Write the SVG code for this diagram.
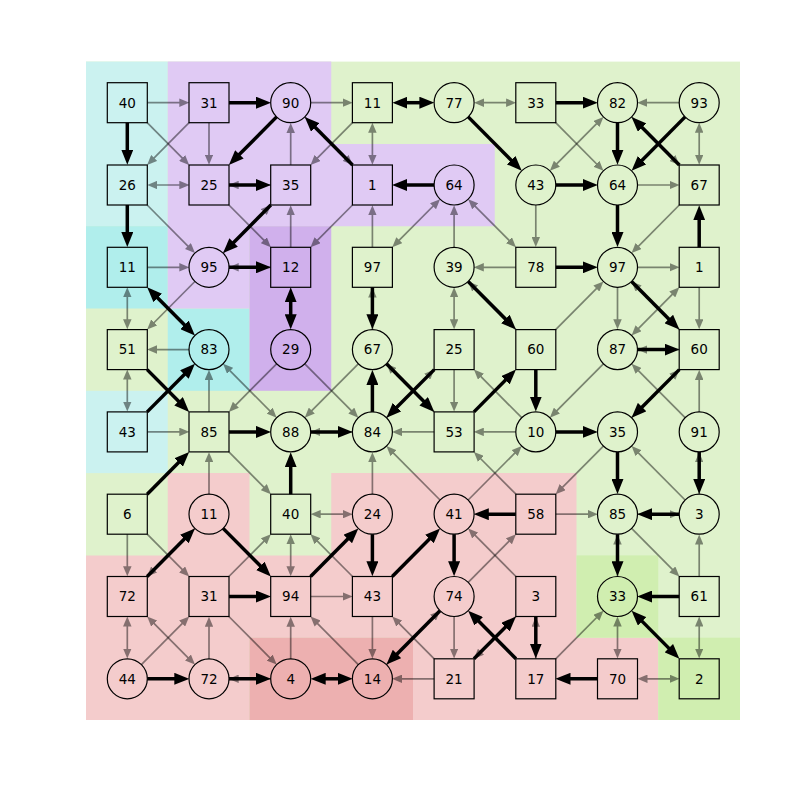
<svg xmlns="http://www.w3.org/2000/svg" width="800" height="800" viewBox="0 0 800 800">
<style>
.t,.td{stroke:#000;stroke-width:1.7;opacity:.45;marker-end:url(#mt)}
.td{marker-start:url(#mt)}
.k,.kd{stroke:#000;stroke-width:3.5;marker-end:url(#mk)}
.kd{marker-start:url(#mk)}
.n rect,.n circle{fill:none;stroke:#000;stroke-width:1.2}
.n text{font-family:"DejaVu Sans",sans-serif;font-size:13.5px;text-anchor:middle;fill:#000}
</style>
<defs>
<marker id="mt" viewBox="0 0 10 8.5" refX="6" refY="4.25" markerWidth="10" markerHeight="8.5" markerUnits="userSpaceOnUse" orient="auto-start-reverse"><path d="M0,0 L10,4.25 L0,8.5 Z" fill="#000"/></marker>
<marker id="mk" viewBox="0 0 15 12" refX="7" refY="6" markerWidth="15" markerHeight="12" markerUnits="userSpaceOnUse" orient="auto-start-reverse"><path d="M0,0 L15,6 L0,12 Z" fill="#000"/></marker>
</defs>
<rect width="800" height="800" fill="#fff"/>
<g id="background">
<rect x="86" y="61.6" width="654" height="658.4" fill="#dff2cc"/>
<rect x="86" y="61.6" width="81.75" height="164.6" fill="#cbf2f0"/>
<rect x="86" y="390.8" width="81.75" height="82.3" fill="#cbf2f0"/>
<rect x="86" y="226.2" width="81.75" height="82.3" fill="#b0eeec"/>
<rect x="167.75" y="308.5" width="81.75" height="82.3" fill="#b0eeec"/>
<path d="M167.75,61.6 H331.25 V143.9 H494.75 V226.2 H249.5 V308.5 H167.75 Z" fill="#e0caf4"/>
<rect x="249.5" y="226.2" width="81.75" height="164.6" fill="#d0b0ec"/>
<path d="M86,555.4 H167.75 V473.1 H249.5 V555.4 H331.25 V473.1 H576.5 V637.7 H658.25 V720 H413 V637.7 H249.5 V720 H86 Z" fill="#f4cccc"/>
<rect x="249.5" y="637.7" width="163.5" height="82.3" fill="#edb0b0"/>
<rect x="576.5" y="555.4" width="81.75" height="82.3" fill="#d0eeb0"/>
<rect x="658.25" y="637.7" width="81.75" height="82.3" fill="#d0eeb0"/>
</g>
<g id="edges">
<g id="thin">
<line class="t" x1="20" x2="58" transform="translate(127.3 102.7)"/>
<line class="t" x1="20" x2="58" transform="translate(290.7 102.7)"/>
<line class="t" x1="20" x2="58" transform="translate(699.2 102.7) rotate(180)"/>
<line class="t" x1="20" x2="58" transform="translate(290.7 185) rotate(180)"/>
<line class="t" x1="20" x2="58" transform="translate(617.5 185)"/>
<line class="t" x1="20" x2="58" transform="translate(127.3 267.3)"/>
<line class="t" x1="20" x2="58" transform="translate(290.7 267.3) rotate(180)"/>
<line class="t" x1="20" x2="58" transform="translate(535.8 267.3) rotate(180)"/>
<line class="t" x1="20" x2="58" transform="translate(617.5 267.3)"/>
<line class="t" x1="20" x2="58" transform="translate(209 349.6) rotate(180)"/>
<line class="t" x1="20" x2="58" transform="translate(699.2 349.6) rotate(180)"/>
<line class="t" x1="20" x2="58" transform="translate(127.3 431.9)"/>
<line class="t" x1="20" x2="58" transform="translate(372.4 431.9) rotate(180)"/>
<line class="t" x1="20" x2="58" transform="translate(454.1 431.9) rotate(180)"/>
<line class="t" x1="20" x2="58" transform="translate(535.8 431.9) rotate(180)"/>
<line class="t" x1="20" x2="58" transform="translate(535.8 514.2)"/>
<line class="t" x1="20" x2="58" transform="translate(617.5 514.2)"/>
<line class="t" x1="20" x2="58" transform="translate(290.7 596.5)"/>
<line class="t" x1="20" x2="58" transform="translate(290.7 678.8) rotate(180)"/>
<line class="t" x1="20" x2="58" transform="translate(454.1 678.8) rotate(180)"/>
<line class="t" x1="20" x2="58" transform="translate(127.3 514.2) rotate(90)"/>
<line class="t" x1="20" x2="58" transform="translate(209 102.7) rotate(90)"/>
<line class="t" x1="20" x2="58" transform="translate(209 431.9) rotate(270)"/>
<line class="t" x1="20" x2="58" transform="translate(209 514.2) rotate(270)"/>
<line class="t" x1="20" x2="58" transform="translate(209 678.8) rotate(270)"/>
<line class="t" x1="20" x2="58" transform="translate(290.7 185) rotate(270)"/>
<line class="t" x1="20" x2="58" transform="translate(290.7 267.3) rotate(270)"/>
<line class="t" x1="20" x2="58" transform="translate(290.7 678.8) rotate(270)"/>
<line class="t" x1="20" x2="58" transform="translate(372.4 267.3) rotate(270)"/>
<line class="t" x1="20" x2="58" transform="translate(372.4 349.6) rotate(270)"/>
<line class="t" x1="20" x2="58" transform="translate(372.4 514.2) rotate(270)"/>
<line class="t" x1="20" x2="58" transform="translate(372.4 596.5) rotate(90)"/>
<line class="t" x1="20" x2="58" transform="translate(454.1 267.3) rotate(270)"/>
<line class="t" x1="20" x2="58" transform="translate(454.1 349.6) rotate(90)"/>
<line class="t" x1="20" x2="58" transform="translate(454.1 596.5) rotate(90)"/>
<line class="t" x1="20" x2="58" transform="translate(535.8 185) rotate(90)"/>
<line class="t" x1="20" x2="58" transform="translate(535.8 678.8) rotate(270)"/>
<line class="t" x1="20" x2="58" transform="translate(617.5 267.3) rotate(90)"/>
<line class="t" x1="20" x2="58" transform="translate(617.5 596.5) rotate(270)"/>
<line class="t" x1="20" x2="58" transform="translate(699.2 267.3) rotate(90)"/>
<line class="t" x1="20" x2="58" transform="translate(699.2 431.9) rotate(270)"/>
<line class="t" x1="20" x2="58" transform="translate(699.2 514.2) rotate(270)"/>
<line class="t" x1="20" x2="58" transform="translate(699.2 596.5) rotate(270)"/>
<line class="td" x1="24" x2="58" transform="translate(454.1 102.7)"/>
<line class="td" x1="24" x2="58" transform="translate(127.3 185)"/>
<line class="td" x1="24" x2="58" transform="translate(290.7 514.2)"/>
<line class="td" x1="24" x2="58" transform="translate(617.5 678.8)"/>
<line class="td" x1="24" x2="58" transform="translate(127.3 267.3) rotate(90)"/>
<line class="td" x1="24" x2="58" transform="translate(127.3 349.6) rotate(90)"/>
<line class="td" x1="24" x2="58" transform="translate(127.3 596.5) rotate(90)"/>
<line class="td" x1="24" x2="58" transform="translate(290.7 514.2) rotate(90)"/>
<line class="td" x1="24" x2="58" transform="translate(372.4 102.7) rotate(90)"/>
<line class="td" x1="24" x2="58" transform="translate(454.1 267.3) rotate(90)"/>
<line class="td" x1="24" x2="58" transform="translate(617.5 596.5) rotate(90)"/>
<line class="td" x1="24" x2="58" transform="translate(699.2 102.7) rotate(90)"/>
<line class="td" x1="24" x2="58" transform="translate(699.2 596.5) rotate(90)"/>
<line class="t" x1="28.2" x2="83.8" transform="translate(127.3 102.7) rotate(45.2)"/>
<line class="t" x1="28.2" x2="83.8" transform="translate(209 102.7) rotate(134.8)"/>
<line class="t" x1="28.2" x2="83.8" transform="translate(372.4 102.7) rotate(134.8)"/>
<line class="t" x1="20" x2="83.8" transform="translate(290.7 102.7) rotate(45.2)"/>
<line class="t" x1="28.2" x2="92" transform="translate(535.8 102.7) rotate(45.2)"/>
<line class="t" x1="20" x2="83.8" transform="translate(617.5 102.7) rotate(45.2)"/>
<line class="t" x1="28.2" x2="92" transform="translate(127.3 185) rotate(45.2)"/>
<line class="t" x1="28.2" x2="83.8" transform="translate(209 185) rotate(45.2)"/>
<line class="t" x1="20" x2="83.8" transform="translate(209 267.3) rotate(314.8)"/>
<line class="t" x1="28.2" x2="83.8" transform="translate(372.4 185) rotate(134.8)"/>
<line class="t" x1="28.2" x2="92" transform="translate(699.2 185) rotate(134.8)"/>
<line class="t" x1="20" x2="83.8" transform="translate(209 267.3) rotate(134.8)"/>
<line class="t" x1="28.2" x2="92" transform="translate(535.8 349.6) rotate(225.2)"/>
<line class="t" x1="28.2" x2="92" transform="translate(535.8 349.6) rotate(314.8)"/>
<line class="t" x1="28.2" x2="92" transform="translate(699.2 349.6) rotate(225.2)"/>
<line class="t" x1="20" x2="83.8" transform="translate(290.7 349.6) rotate(134.8)"/>
<line class="t" x1="20" x2="92" transform="translate(290.7 349.6) rotate(45.2)"/>
<line class="t" x1="20" x2="92" transform="translate(372.4 349.6) rotate(134.8)"/>
<line class="t" x1="28.2" x2="92" transform="translate(454.1 431.9) rotate(225.2)"/>
<line class="t" x1="20" x2="83.8" transform="translate(372.4 431.9) rotate(314.8)"/>
<line class="t" x1="20" x2="83.8" transform="translate(535.8 431.9) rotate(225.2)"/>
<line class="t" x1="20" x2="92" transform="translate(617.5 349.6) rotate(134.8)"/>
<line class="t" x1="20" x2="83.8" transform="translate(617.5 431.9) rotate(314.8)"/>
<line class="t" x1="20" x2="92" transform="translate(699.2 431.9) rotate(225.2)"/>
<line class="t" x1="28.2" x2="83.8" transform="translate(209 431.9) rotate(45.2)"/>
<line class="t" x1="20" x2="92" transform="translate(454.1 514.2) rotate(225.2)"/>
<line class="t" x1="20" x2="92" transform="translate(454.1 514.2) rotate(314.8)"/>
<line class="t" x1="28.2" x2="83.8" transform="translate(535.8 514.2) rotate(225.2)"/>
<line class="t" x1="20" x2="83.8" transform="translate(617.5 431.9) rotate(134.8)"/>
<line class="t" x1="20" x2="92" transform="translate(699.2 514.2) rotate(225.2)"/>
<line class="t" x1="28.2" x2="83.8" transform="translate(127.3 514.2) rotate(45.2)"/>
<line class="t" x1="20" x2="83.8" transform="translate(209 514.2) rotate(134.8)"/>
<line class="t" x1="28.2" x2="83.8" transform="translate(209 596.5) rotate(314.8)"/>
<line class="t" x1="28.2" x2="83.8" transform="translate(372.4 596.5) rotate(225.2)"/>
<line class="t" x1="20" x2="83.8" transform="translate(454.1 596.5) rotate(314.8)"/>
<line class="t" x1="28.2" x2="92" transform="translate(535.8 596.5) rotate(225.2)"/>
<line class="t" x1="20" x2="83.8" transform="translate(617.5 514.2) rotate(45.2)"/>
<line class="t" x1="20" x2="83.8" transform="translate(127.3 678.8) rotate(314.8)"/>
<line class="t" x1="28.2" x2="92" transform="translate(209 596.5) rotate(45.2)"/>
<line class="t" x1="20" x2="83.8" transform="translate(372.4 678.8) rotate(225.2)"/>
<line class="t" x1="28.2" x2="83.8" transform="translate(454.1 678.8) rotate(225.2)"/>
<line class="t" x1="20" x2="92" transform="translate(372.4 678.8) rotate(314.8)"/>
<line class="t" x1="28.2" x2="83.8" transform="translate(535.8 596.5) rotate(134.8)"/>
<line class="t" x1="28.2" x2="92" transform="translate(535.8 678.8) rotate(314.8)"/>
<line class="td" x1="24" x2="92" transform="translate(535.8 185) rotate(314.8)"/>
<line class="td" x1="32.2" x2="92" transform="translate(372.4 267.3) rotate(314.8)"/>
<line class="td" x1="24" x2="83.8" transform="translate(454.1 185) rotate(45.2)"/>
<line class="td" x1="32.2" x2="92" transform="translate(699.2 267.3) rotate(134.8)"/>
<line class="td" x1="24" x2="92" transform="translate(209 349.6) rotate(45.2)"/>
<line class="td" x1="32.2" x2="92" transform="translate(127.3 596.5) rotate(45.2)"/>
</g>
<g id="thick">
<line class="k" x1="20" x2="54" transform="translate(209 102.7)"/>
<line class="k" x1="20" x2="54" transform="translate(535.8 102.7)"/>
<line class="k" x1="20" x2="54" transform="translate(209 185)"/>
<line class="k" x1="20" x2="54" transform="translate(454.1 185) rotate(180)"/>
<line class="k" x1="20" x2="54" transform="translate(535.8 185)"/>
<line class="k" x1="20" x2="54" transform="translate(209 267.3)"/>
<line class="k" x1="20" x2="54" transform="translate(535.8 267.3)"/>
<line class="k" x1="20" x2="54" transform="translate(617.5 349.6)"/>
<line class="k" x1="20" x2="54" transform="translate(209 431.9)"/>
<line class="k" x1="20" x2="54" transform="translate(290.7 431.9)"/>
<line class="k" x1="20" x2="54" transform="translate(535.8 431.9)"/>
<line class="k" x1="20" x2="54" transform="translate(535.8 514.2) rotate(180)"/>
<line class="k" x1="20" x2="54" transform="translate(699.2 514.2) rotate(180)"/>
<line class="k" x1="20" x2="54" transform="translate(209 596.5)"/>
<line class="k" x1="20" x2="54" transform="translate(699.2 596.5) rotate(180)"/>
<line class="k" x1="20" x2="54" transform="translate(127.3 678.8)"/>
<line class="k" x1="20" x2="54" transform="translate(209 678.8)"/>
<line class="k" x1="20" x2="54" transform="translate(617.5 678.8) rotate(180)"/>
<line class="k" x1="20" x2="54" transform="translate(127.3 102.7) rotate(90)"/>
<line class="k" x1="20" x2="54" transform="translate(127.3 185) rotate(90)"/>
<line class="k" x1="20" x2="54" transform="translate(290.7 514.2) rotate(270)"/>
<line class="k" x1="20" x2="54" transform="translate(372.4 267.3) rotate(90)"/>
<line class="k" x1="20" x2="54" transform="translate(372.4 431.9) rotate(270)"/>
<line class="k" x1="20" x2="54" transform="translate(372.4 514.2) rotate(90)"/>
<line class="k" x1="20" x2="54" transform="translate(454.1 514.2) rotate(90)"/>
<line class="k" x1="20" x2="54" transform="translate(535.8 349.6) rotate(90)"/>
<line class="k" x1="20" x2="54" transform="translate(535.8 596.5) rotate(90)"/>
<line class="k" x1="20" x2="54" transform="translate(617.5 102.7) rotate(90)"/>
<line class="k" x1="20" x2="54" transform="translate(617.5 185) rotate(90)"/>
<line class="k" x1="20" x2="54" transform="translate(617.5 431.9) rotate(90)"/>
<line class="k" x1="20" x2="54" transform="translate(617.5 514.2) rotate(90)"/>
<line class="k" x1="20" x2="54" transform="translate(699.2 267.3) rotate(270)"/>
<line class="k" x1="20" x2="54" transform="translate(699.2 431.9) rotate(90)"/>
<line class="kd" x1="28" x2="54" transform="translate(372.4 102.7)"/>
<line class="kd" x1="28" x2="54" transform="translate(290.7 678.8)"/>
<line class="kd" x1="28" x2="54" transform="translate(290.7 267.3) rotate(90)"/>
<line class="k" x1="20" x2="79.8" transform="translate(290.7 102.7) rotate(134.8)"/>
<line class="k" x1="28.2" x2="88" transform="translate(372.4 185) rotate(225.2)"/>
<line class="k" x1="20" x2="88" transform="translate(454.1 102.7) rotate(45.2)"/>
<line class="k" x1="20" x2="88" transform="translate(699.2 102.7) rotate(134.8)"/>
<line class="k" x1="28.2" x2="88" transform="translate(699.2 185) rotate(225.2)"/>
<line class="k" x1="28.2" x2="88" transform="translate(290.7 185) rotate(134.8)"/>
<line class="k" x1="20" x2="79.8" transform="translate(454.1 267.3) rotate(45.2)"/>
<line class="k" x1="20" x2="79.8" transform="translate(617.5 267.3) rotate(45.2)"/>
<line class="k" x1="28.2" x2="79.8" transform="translate(127.3 349.6) rotate(45.2)"/>
<line class="k" x1="28.2" x2="88" transform="translate(127.3 431.9) rotate(314.8)"/>
<line class="k" x1="20" x2="79.8" transform="translate(372.4 349.6) rotate(45.2)"/>
<line class="k" x1="28.2" x2="88" transform="translate(454.1 349.6) rotate(134.8)"/>
<line class="k" x1="28.2" x2="79.8" transform="translate(454.1 431.9) rotate(314.8)"/>
<line class="k" x1="28.2" x2="88" transform="translate(699.2 349.6) rotate(134.8)"/>
<line class="k" x1="28.2" x2="79.8" transform="translate(127.3 514.2) rotate(314.8)"/>
<line class="k" x1="28.2" x2="88" transform="translate(127.3 596.5) rotate(314.8)"/>
<line class="k" x1="20" x2="79.8" transform="translate(209 514.2) rotate(45.2)"/>
<line class="k" x1="28.2" x2="88" transform="translate(290.7 596.5) rotate(314.8)"/>
<line class="k" x1="28.2" x2="88" transform="translate(372.4 596.5) rotate(314.8)"/>
<line class="k" x1="20" x2="88" transform="translate(454.1 596.5) rotate(134.8)"/>
<line class="k" x1="28.2" x2="79.8" transform="translate(454.1 678.8) rotate(314.8)"/>
<line class="k" x1="28.2" x2="88" transform="translate(535.8 678.8) rotate(225.2)"/>
<line class="kd" x1="36.2" x2="88" transform="translate(127.3 267.3) rotate(45.2)"/>
<line class="kd" x1="28" x2="79.8" transform="translate(617.5 596.5) rotate(45.2)"/>
</g>
</g>
<g id="nodes" class="n">
<g id="n0_0"><rect x="107.3" y="82.7" width="40" height="40"/><text x="127.3" y="107.5">40</text></g>
<g id="n0_1"><rect x="189" y="82.7" width="40" height="40"/><text x="209" y="107.5">31</text></g>
<g id="n0_2"><circle cx="290.7" cy="102.7" r="20"/><text x="290.7" y="107.5">90</text></g>
<g id="n0_3"><rect x="352.4" y="82.7" width="40" height="40"/><text x="372.4" y="107.5">11</text></g>
<g id="n0_4"><circle cx="454.1" cy="102.7" r="20"/><text x="454.1" y="107.5">77</text></g>
<g id="n0_5"><rect x="515.8" y="82.7" width="40" height="40"/><text x="535.8" y="107.5">33</text></g>
<g id="n0_6"><circle cx="617.5" cy="102.7" r="20"/><text x="617.5" y="107.5">82</text></g>
<g id="n0_7"><circle cx="699.2" cy="102.7" r="20"/><text x="699.2" y="107.5">93</text></g>
<g id="n1_0"><rect x="107.3" y="165" width="40" height="40"/><text x="127.3" y="189.8">26</text></g>
<g id="n1_1"><rect x="189" y="165" width="40" height="40"/><text x="209" y="189.8">25</text></g>
<g id="n1_2"><rect x="270.7" y="165" width="40" height="40"/><text x="290.7" y="189.8">35</text></g>
<g id="n1_3"><rect x="352.4" y="165" width="40" height="40"/><text x="372.4" y="189.8">1</text></g>
<g id="n1_4"><circle cx="454.1" cy="185" r="20"/><text x="454.1" y="189.8">64</text></g>
<g id="n1_5"><circle cx="535.8" cy="185" r="20"/><text x="535.8" y="189.8">43</text></g>
<g id="n1_6"><circle cx="617.5" cy="185" r="20"/><text x="617.5" y="189.8">64</text></g>
<g id="n1_7"><rect x="679.2" y="165" width="40" height="40"/><text x="699.2" y="189.8">67</text></g>
<g id="n2_0"><rect x="107.3" y="247.3" width="40" height="40"/><text x="127.3" y="272.1">11</text></g>
<g id="n2_1"><circle cx="209" cy="267.3" r="20"/><text x="209" y="272.1">95</text></g>
<g id="n2_2"><rect x="270.7" y="247.3" width="40" height="40"/><text x="290.7" y="272.1">12</text></g>
<g id="n2_3"><rect x="352.4" y="247.3" width="40" height="40"/><text x="372.4" y="272.1">97</text></g>
<g id="n2_4"><circle cx="454.1" cy="267.3" r="20"/><text x="454.1" y="272.1">39</text></g>
<g id="n2_5"><rect x="515.8" y="247.3" width="40" height="40"/><text x="535.8" y="272.1">78</text></g>
<g id="n2_6"><circle cx="617.5" cy="267.3" r="20"/><text x="617.5" y="272.1">97</text></g>
<g id="n2_7"><rect x="679.2" y="247.3" width="40" height="40"/><text x="699.2" y="272.1">1</text></g>
<g id="n3_0"><rect x="107.3" y="329.6" width="40" height="40"/><text x="127.3" y="354.4">51</text></g>
<g id="n3_1"><circle cx="209" cy="349.6" r="20"/><text x="209" y="354.4">83</text></g>
<g id="n3_2"><circle cx="290.7" cy="349.6" r="20"/><text x="290.7" y="354.4">29</text></g>
<g id="n3_3"><circle cx="372.4" cy="349.6" r="20"/><text x="372.4" y="354.4">67</text></g>
<g id="n3_4"><rect x="434.1" y="329.6" width="40" height="40"/><text x="454.1" y="354.4">25</text></g>
<g id="n3_5"><rect x="515.8" y="329.6" width="40" height="40"/><text x="535.8" y="354.4">60</text></g>
<g id="n3_6"><circle cx="617.5" cy="349.6" r="20"/><text x="617.5" y="354.4">87</text></g>
<g id="n3_7"><rect x="679.2" y="329.6" width="40" height="40"/><text x="699.2" y="354.4">60</text></g>
<g id="n4_0"><rect x="107.3" y="411.9" width="40" height="40"/><text x="127.3" y="436.7">43</text></g>
<g id="n4_1"><rect x="189" y="411.9" width="40" height="40"/><text x="209" y="436.7">85</text></g>
<g id="n4_2"><circle cx="290.7" cy="431.9" r="20"/><text x="290.7" y="436.7">88</text></g>
<g id="n4_3"><circle cx="372.4" cy="431.9" r="20"/><text x="372.4" y="436.7">84</text></g>
<g id="n4_4"><rect x="434.1" y="411.9" width="40" height="40"/><text x="454.1" y="436.7">53</text></g>
<g id="n4_5"><circle cx="535.8" cy="431.9" r="20"/><text x="535.8" y="436.7">10</text></g>
<g id="n4_6"><circle cx="617.5" cy="431.9" r="20"/><text x="617.5" y="436.7">35</text></g>
<g id="n4_7"><circle cx="699.2" cy="431.9" r="20"/><text x="699.2" y="436.7">91</text></g>
<g id="n5_0"><rect x="107.3" y="494.2" width="40" height="40"/><text x="127.3" y="519">6</text></g>
<g id="n5_1"><circle cx="209" cy="514.2" r="20"/><text x="209" y="519">11</text></g>
<g id="n5_2"><rect x="270.7" y="494.2" width="40" height="40"/><text x="290.7" y="519">40</text></g>
<g id="n5_3"><circle cx="372.4" cy="514.2" r="20"/><text x="372.4" y="519">24</text></g>
<g id="n5_4"><circle cx="454.1" cy="514.2" r="20"/><text x="454.1" y="519">41</text></g>
<g id="n5_5"><rect x="515.8" y="494.2" width="40" height="40"/><text x="535.8" y="519">58</text></g>
<g id="n5_6"><circle cx="617.5" cy="514.2" r="20"/><text x="617.5" y="519">85</text></g>
<g id="n5_7"><circle cx="699.2" cy="514.2" r="20"/><text x="699.2" y="519">3</text></g>
<g id="n6_0"><rect x="107.3" y="576.5" width="40" height="40"/><text x="127.3" y="601.3">72</text></g>
<g id="n6_1"><rect x="189" y="576.5" width="40" height="40"/><text x="209" y="601.3">31</text></g>
<g id="n6_2"><rect x="270.7" y="576.5" width="40" height="40"/><text x="290.7" y="601.3">94</text></g>
<g id="n6_3"><rect x="352.4" y="576.5" width="40" height="40"/><text x="372.4" y="601.3">43</text></g>
<g id="n6_4"><circle cx="454.1" cy="596.5" r="20"/><text x="454.1" y="601.3">74</text></g>
<g id="n6_5"><rect x="515.8" y="576.5" width="40" height="40"/><text x="535.8" y="601.3">3</text></g>
<g id="n6_6"><circle cx="617.5" cy="596.5" r="20"/><text x="617.5" y="601.3">33</text></g>
<g id="n6_7"><rect x="679.2" y="576.5" width="40" height="40"/><text x="699.2" y="601.3">61</text></g>
<g id="n7_0"><circle cx="127.3" cy="678.8" r="20"/><text x="127.3" y="683.6">44</text></g>
<g id="n7_1"><circle cx="209" cy="678.8" r="20"/><text x="209" y="683.6">72</text></g>
<g id="n7_2"><circle cx="290.7" cy="678.8" r="20"/><text x="290.7" y="683.6">4</text></g>
<g id="n7_3"><circle cx="372.4" cy="678.8" r="20"/><text x="372.4" y="683.6">14</text></g>
<g id="n7_4"><rect x="434.1" y="658.8" width="40" height="40"/><text x="454.1" y="683.6">21</text></g>
<g id="n7_5"><rect x="515.8" y="658.8" width="40" height="40"/><text x="535.8" y="683.6">17</text></g>
<g id="n7_6"><rect x="597.5" y="658.8" width="40" height="40"/><text x="617.5" y="683.6">70</text></g>
<g id="n7_7"><rect x="679.2" y="658.8" width="40" height="40"/><text x="699.2" y="683.6">2</text></g>
</g>
</svg>
